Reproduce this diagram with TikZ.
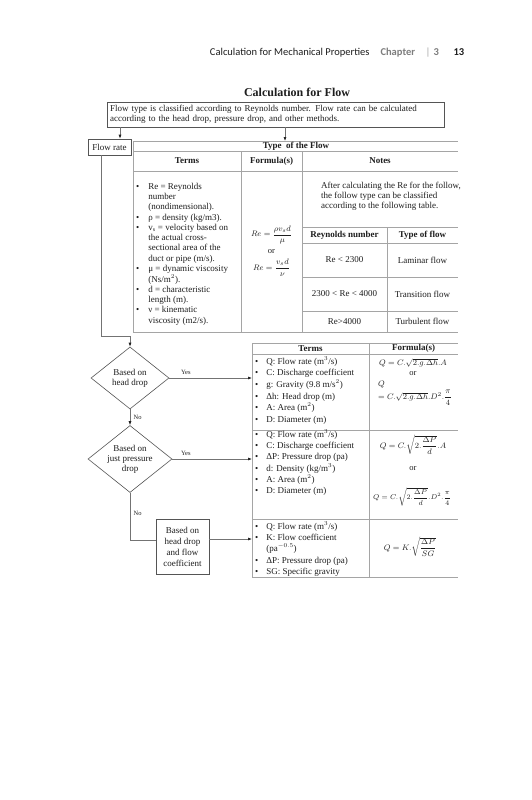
\documentclass[tikz,border=0pt]{standalone}
\usepackage{fontspec}
\setmainfont{Liberation Serif}
\newfontfamily\headfont{Carlito}
\usepackage{amsmath}
\usetikzlibrary{positioning,arrows.meta,shapes.geometric,calc}
\definecolor{ink}{RGB}{30,30,30}
\definecolor{grayink}{RGB}{125,125,125}
\definecolor{rulegray}{RGB}{165,165,165}
\definecolor{boxline}{RGB}{85,85,85}
\definecolor{wireline}{RGB}{115,115,115}

\begin{document}
\begin{tikzpicture}[x=1pt,y=-1pt,font=\fontsize{9}{10}\selectfont,text=ink,
  arr/.style={draw=wireline,semithick,-{Latex[length=4pt,width=3pt,color=ink]}},
  wire/.style={draw=wireline,semithick},
  choice/.style={diamond,draw=boxline,semithick,inner sep=-2pt,aspect=1.25,align=center},
  tag/.style={font=\fontsize{6.5}{7}\selectfont},
  hcell/.style={font=\bfseries\fontsize{9}{10}\selectfont,inner sep=1pt},
  eqn/.style={font=\fontsize{8}{9}\selectfont,inner sep=0pt}]
\useasboundingbox[fill=white] (0,0) rectangle (531,800);

% running head
\node[anchor=base east,font=\headfont\fontsize{10.5}{12}\selectfont] (runhead) at (373,56) {Calculation for Mechanical Properties};
\node[anchor=base west,font=\headfont\bfseries\fontsize{10.5}{12}\selectfont,text=grayink] (chap) at (377,56) {Chapter};
\node[anchor=base west,font=\headfont\fontsize{10.5}{12}\selectfont,text=rulegray] (bar) at (422,56) {|};
\node[anchor=base west,font=\headfont\bfseries\fontsize{10.5}{12}\selectfont,text=grayink] (chnum) at (430,56) {3};
\node[anchor=base west,font=\headfont\bfseries\fontsize{10.5}{12}\selectfont] (page) at (450,56) {13};

\node[font=\bfseries\fontsize{12}{14}\selectfont] (title) at (297,92) {Calculation for Flow};
\node[draw=boxline,anchor=north west,text width=331pt,inner sep=3pt,align=left,minimum height=25pt] (intro) at (107,102)
  {Flow type is classified according to Reynolds number. Flow rate can be calculated\\according to the head drop, pressure drop, and other methods.};

\node[draw=boxline,semithick,minimum width=43pt,minimum height=16pt,inner sep=1pt] (fr) at (109.5,147) {Flow rate};
\coordinate (tt) at (285,141);
\coordinate (tl) at (252,343);

% type of flow table
\foreach \y in {141,151,171,332} {\draw[rulegray] (133,\y) -- (458,\y);}
\draw[rulegray] (133,141) -- (133,332);
\foreach \x in {241,302} {\draw[rulegray] (\x,151) -- (\x,332);}
\foreach \y in {227,243,277,311} {\draw[rulegray] (302,\y) -- (458,\y);}
\draw[rulegray] (387,227) -- (387,332);
\node[hcell] (tflow) at (296,146) {Type\ \ of the Flow};
\node[hcell] (hterms) at (187,161) {Terms};
\node[hcell] (hform) at (271.5,161) {Formula(s)};
\node[hcell] (hnotes) at (380,161) {Notes};
\node[anchor=north west,inner sep=0pt] (reterms) at (136,182) {\fontsize{9}{10.25}\selectfont
  \begin{tabular}{@{}l@{\hspace{9pt}}l@{}}
  \textbullet & Re = Reynolds\\
   & number\\
   & (nondimensional).\\
  \textbullet & ρ = density (kg/m3).\\
  \textbullet & v$_{\mathrm{s}}$ = velocity based on\\
   & the actual cross-\\
   & sectional area of the\\
   & duct or pipe (m/s).\\
  \textbullet & μ = dynamic viscosity\\
   & (Ns/m$^2$).\\
  \textbullet & d = characteristic\\
   & length (m).\\
  \textbullet & ν = kinematic\\
   & viscosity (m2/s).
  \end{tabular}};
\node[eqn] (re1) at (271.5,235) {$Re=\dfrac{\rho v_s d}{\mu}$};
\node[font=\fontsize{8.5}{9}\selectfont] (reor) at (271.5,252) {or};
\node[eqn] (re2) at (271.5,268) {$Re=\dfrac{v_s d}{\nu}$};
\node[anchor=north west,inner sep=0pt,align=left,font=\fontsize{9}{9.8}\selectfont] (notes) at (321,182)
  {After calculating the Re for the follow,\\the follow type can be classified\\according to the following table.};
\node[hcell] (hre) at (344.5,235) {Reynolds number};
\node[hcell] (htype) at (422.5,235) {Type of flow};
\foreach \y/\re/\kind in {260/Re < 2300/Laminar flow,294/2300 < Re < 4000/Transition flow,321.5/Re>4000/Turbulent flow}
  {\node at (344.5,\y) {\re}; \node at (422.5,\y) {\kind};}

% flow rate table
\foreach \y in {343,354,430,519,577} {\draw[rulegray] (252,\y) -- (458,\y);}
\foreach \x in {252,369} {\draw[rulegray] (\x,343) -- (\x,577);}
\node[hcell] (lterms) at (310.5,348.5) {Terms};
\node[hcell] (lform) at (413.5,348.5) {Formula(s)};
\node[anchor=north west,inner sep=0pt] (headterms) at (255,356) {\fontsize{9}{11.6}\selectfont
  \begin{tabular}{@{}l@{\hspace{8pt}}l@{}}
  \textbullet & Q: Flow rate (m$^3$/s)\\
  \textbullet & C: Discharge coefficient\\
  \textbullet & g: Gravity (9.8 m/s$^2$)\\
  \textbullet & Δh: Head drop (m)\\
  \textbullet & A:\ Area (m$^2$)\\
  \textbullet & D: Diameter (m)
  \end{tabular}};
\node[anchor=north west,inner sep=0pt] (pressterms) at (255,429.5) {\fontsize{9}{11.2}\selectfont
  \begin{tabular}{@{}l@{\hspace{8pt}}l@{}}
  \textbullet & Q: Flow rate (m$^3$/s)\\
  \textbullet & C: Discharge coefficient\\
  \textbullet & ΔP: Pressure drop (pa)\\
  \textbullet & d: Density (kg/m$^3$)\\
  \textbullet & A:\ Area (m$^2$)\\
  \textbullet & D: Diameter (m)
  \end{tabular}};
\node[anchor=north west,inner sep=0pt] (coefterms) at (255,521) {\fontsize{9}{11.3}\selectfont
  \begin{tabular}{@{}l@{\hspace{8pt}}l@{}}
  \textbullet & Q: Flow rate (m$^3$/s)\\
  \textbullet & K: Flow coefficient\\
   & (pa$^{-0.5}$)\\
  \textbullet & ΔP: Pressure drop (pa)\\
  \textbullet & SG: Specific gravity
  \end{tabular}};
\node[eqn] (qh1) at (413,363) {$Q=C.\sqrt{2.g.\Delta h}.A$};
\node[font=\fontsize{8.5}{9}\selectfont] (qhor) at (413,374) {or};
\node[eqn,anchor=west] (qh2) at (378,385) {$Q$};
\node[eqn,anchor=west] (qh3) at (378,398) {$=C.\sqrt{2.g.\Delta h}.D^2.\dfrac{\pi}{4}$};
\node[eqn] (qp1) at (413,445) {$Q=C.\sqrt{2.\dfrac{\Delta P}{d}}.A$};
\node[font=\fontsize{8.5}{9}\selectfont] (qpor) at (413,469) {or};
\node[eqn,font=\fontsize{7.5}{9}\selectfont] (qp2) at (412,497) {$Q=C.\sqrt{2.\dfrac{\Delta P}{d}}.D^2.\dfrac{\pi}{4}$};
\node[eqn] (qk) at (410,547) {$Q=K.\sqrt{\dfrac{\Delta P}{SG}}$};

% decisions
\node[choice,minimum width=78pt,minimum height=62pt] (d1) at (130,378) {Based on\\head drop};
\node[choice,minimum width=84pt,minimum height=67pt] (d2) at (130,459) {Based on\\just pressure\\drop};
\node[draw=boxline,semithick,minimum width=53pt,minimum height=55pt,inner sep=1pt,align=center,font=\fontsize{9}{11}\selectfont] (hf) at (182.5,546.5) {Based on\\head drop\\and flow\\coefficient};

% connectors
\draw[arr] ([xshift=10.5pt]fr.north |- intro.south) -- ([xshift=10.5pt]fr.north);
\draw[arr] (tt |- intro.south) -- (tt);
\draw[arr] ([xshift=-8.5pt]fr.south) |- ($(d1.north)+(0,-10)$) -- (d1.north);
\draw[arr] (d1.east) -- (d1.east -| tl) node[tag,pos=0.2,above] {Yes};
\draw[arr] (d1.south) -- (d2.north) node[tag,midway,right] {No};
\draw[arr] (d2.east) -- (d2.east -| tl) node[tag,pos=0.17,above] {Yes};
\draw[wire] (d2.south) |- ([yshift=6.5pt]hf.west) node[tag,pos=0.22,right] {No};
\draw[arr] ([yshift=7.5pt]hf.east) -- ([yshift=7.5pt]hf.east -| tl);
\end{tikzpicture}
\end{document}
